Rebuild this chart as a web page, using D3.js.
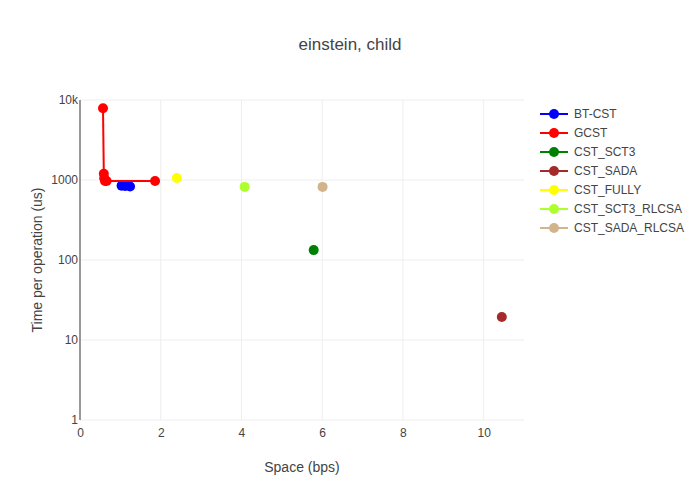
<!DOCTYPE html>
<html>
<head>
<meta charset="utf-8">
<script src="https://cdn.jsdelivr.net/npm/d3@7"></script>
<style>
  body { margin: 0; background: #fff; }
  text { font-family: "Liberation Sans", Arial, sans-serif; fill: #444; }
</style>
</head>
<body>
<svg id="chart" width="700" height="500"></svg>
<script>
// series names and colours
const seriesNames = ["BT-CST", "GCST", "CST_SCT3", "CST_SADA", "CST_FULLY", "CST_SCT3_RLCSA", "CST_SADA_RLCSA"];
const seriesColors = ["blue", "red", "green", "brown", "yellow", "greenyellow", "tan"];

// values: [space bps, time us]
const btCst = [[1.03, 850], [1.12, 840], [1.24, 830]];
const gcst = [[0.57, 7900], [0.59, 1200], [0.6, 1050], [0.62, 970], [0.66, 970], [1.86, 970]];
const cstSct3 = [[5.79, 133]];
const cstSada = [[10.45, 19.4]];
const cstFully = [[2.4, 1060]];
const cstSct3Rlcsa = [[4.08, 820]];
const cstSadaRlcsa = [[6.01, 820]];
const allSeries = [btCst, gcst, cstSct3, cstSada, cstFully, cstSct3Rlcsa, cstSadaRlcsa];

const xTicks = [0, 2, 4, 6, 8, 10];
const yTicks = [1, 10, 100, 1000, 10000];
const yTickLabels = ["1", "10", "100", "1000", "10k"];

const svg = d3.select("#chart");
const margin = { top: 100, right: 176, bottom: 80, left: 80 };
const width = 700 - margin.left - margin.right;
const height = 500 - margin.top - margin.bottom;

const x = d3.scaleLinear().domain([0, 11]).range([0, width]);
const y = d3.scaleLog().domain([1, 10000]).range([height, 0]);

const g = svg.append("g").attr("transform", `translate(${margin.left},${margin.top})`);

// grid
g.selectAll(".vgrid").data(xTicks.filter(d => d > 0)).enter().append("line")
  .attr("x1", d => x(d)).attr("x2", d => x(d)).attr("y1", 0).attr("y2", height)
  .attr("stroke", "#eee").attr("stroke-width", 1);
g.selectAll(".hgrid").data(yTicks).enter().append("line")
  .attr("x1", 0).attr("x2", width).attr("y1", d => y(d)).attr("y2", d => y(d))
  .attr("stroke", "#eee").attr("stroke-width", 1);

// zero line on x
g.append("line").attr("x1", x(0)).attr("x2", x(0)).attr("y1", 0).attr("y2", height)
  .attr("stroke", "#999").attr("stroke-width", 2);

// axes, drawn with d3 then stripped of their lines
const xAxis = g.append("g").attr("transform", `translate(0,${height})`)
  .call(d3.axisBottom(x).tickValues(xTicks).tickSize(0).tickPadding(8));
const yAxis = g.append("g")
  .call(d3.axisLeft(y).tickValues(yTicks).tickFormat((d, i) => yTickLabels[i]).tickSize(0).tickPadding(2));
[xAxis, yAxis].forEach(a => {
  a.select(".domain").remove();
  a.selectAll("text").attr("fill", "#444").style("font-size", "12px")
    .style("font-family", '"Liberation Sans", Arial, sans-serif');
});

// lines and markers
const line = d3.line().x(d => x(d[0])).y(d => y(d[1]));
allSeries.forEach((s, i) => {
  g.append("path").datum(s).attr("d", line).attr("fill", "none")
    .attr("stroke", seriesColors[i]).attr("stroke-width", 2);
  g.selectAll(".pt" + i).data(s).enter().append("circle")
    .attr("cx", d => x(d[0])).attr("cy", d => y(d[1])).attr("r", 5)
    .attr("fill", seriesColors[i]);
});

// title and axis titles
svg.append("text").attr("x", 350).attr("y", 50).attr("text-anchor", "middle")
  .style("font-size", "17px").text("einstein, child");
svg.append("text").attr("x", margin.left + width / 2).attr("y", 472).attr("text-anchor", "middle")
  .style("font-size", "14px").text("Space (bps)");
svg.append("text").attr("transform", `translate(42,${margin.top + height / 2}) rotate(-90)`)
  .attr("text-anchor", "middle").style("font-size", "14px").text("Time per operation (us)");

// legend
const legend = svg.append("g").attr("transform", "translate(540,114)");
seriesNames.forEach((name, i) => {
  const row = legend.append("g").attr("transform", `translate(0,${i * 19})`);
  row.append("line").attr("x1", 0).attr("x2", 28).attr("stroke", seriesColors[i]).attr("stroke-width", 2);
  row.append("circle").attr("cx", 14).attr("r", 5).attr("fill", seriesColors[i]);
  row.append("text").attr("x", 34).attr("dy", "0.35em").style("font-size", "12px").text(name);
});
</script>
</body>
</html>
